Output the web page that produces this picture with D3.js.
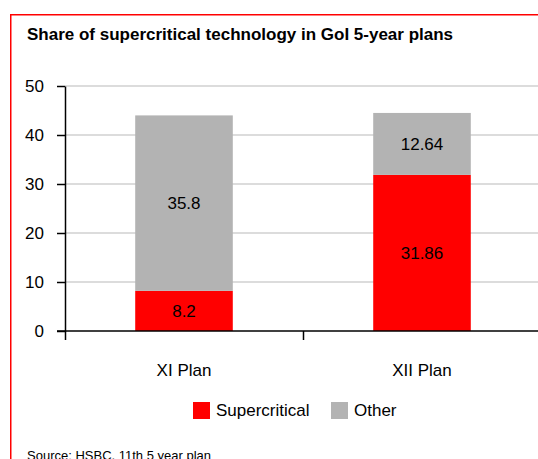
<!DOCTYPE html>
<html lang="en">
<head>
    <meta charset="UTF-8">
    <title>Share of supercritical technology</title>
    <script src="https://d3js.org/d3.v7.min.js"></script>
    <style>
        body { margin: 0; background: white; }
        svg { display: block; font-family: "Liberation Sans", Arial, sans-serif; }
        .tick text { font-size: 17px; fill: #000; }
    </style>
</head>
<body>
    <div id="chart"></div>
    <script>
        // chart data
        var plans = ["XI Plan", "XII Plan"];
        var supercritical = [8.2, 31.86];
        var other = [35.8, 12.64];
        var seriesNames = ["Supercritical", "Other"];
        var seriesColors = ["#ff0000", "#b3b3b3"];
        var yTicks = [0, 10, 20, 30, 40, 50];

        var width = 538, height = 459;
        var plotLeft = 65, plotRight = 541, plotTop = 86, plotBottom = 331;

        var svg = d3.select("#chart").append("svg")
            .attr("width", width)
            .attr("height", height);

        // red frame (right and bottom edges fall outside the picture)
        svg.append("path")
            .attr("d", "M10.75,459 V14.75 H538")
            .attr("fill", "none")
            .attr("stroke", "#ff0000")
            .attr("stroke-width", 1.5);

        svg.append("text")
            .attr("x", 27).attr("y", 40)
            .attr("font-size", 17)
            .attr("font-weight", "bold")
            .text("Share of supercritical technology in GoI 5-year plans");

        var y = d3.scaleLinear().domain([0, 50]).range([plotBottom, plotTop]);
        var x = d3.scaleBand().domain(plans).range([plotLeft, plotRight])
            .paddingInner(0.59).paddingOuter(0.295);
        var xEdge = d3.scaleLinear().domain([0, plans.length]).range([plotLeft, plotRight]);

        // gridlines
        svg.append("g")
            .selectAll("line")
            .data(yTicks.filter(function(d) { return d > 0; }))
            .join("line")
            .attr("x1", plotLeft).attr("x2", width)
            .attr("y1", function(d) { return y(d); })
            .attr("y2", function(d) { return y(d); })
            .attr("stroke", "#d0d0d0")
            .attr("stroke-width", 1.5);

        // stacked bars
        var rows = plans.map(function(p, i) {
            return { plan: p, Supercritical: supercritical[i], Other: other[i] };
        });
        var stacked = d3.stack().keys(seriesNames)(rows);

        var layers = svg.append("g").selectAll("g")
            .data(stacked)
            .join("g")
            .attr("fill", function(d, i) { return seriesColors[i]; });

        layers.selectAll("rect")
            .data(function(d) { return d; })
            .join("rect")
            .attr("x", function(d) { return x(d.data.plan); })
            .attr("width", x.bandwidth())
            .attr("y", function(d) { return y(d[1]); })
            .attr("height", function(d) { return y(d[0]) - y(d[1]); });

        layers.selectAll("text")
            .data(function(d) { return d.map(function(v) { v.key = d.key; return v; }); })
            .join("text")
            .attr("x", function(d) { return x(d.data.plan) + x.bandwidth() / 2; })
            .attr("y", function(d) { return (y(d[0]) + y(d[1])) / 2; })
            .attr("dy", "0.35em")
            .attr("text-anchor", "middle")
            .attr("font-size", 17)
            .attr("fill", "#000")
            .text(function(d) { return d.data[d.key]; });

        // y axis
        var yAxis = svg.append("g")
            .attr("transform", "translate(" + plotLeft + ",0)")
            .call(d3.axisLeft(y).tickValues(yTicks).tickSize(8).tickPadding(13).tickSizeOuter(0));
        yAxis.select(".domain").attr("stroke-width", 1.5);
        yAxis.selectAll(".tick line").attr("stroke-width", 1.5);

        // x axis: ticks on the category edges, labels centred in each band
        var xAxis = svg.append("g")
            .attr("transform", "translate(0," + plotBottom + ")")
            .call(d3.axisBottom(xEdge).ticks(plans.length).tickSize(9).tickFormat("").tickSizeOuter(0));
        xAxis.select(".domain").attr("d", "M" + (plotLeft - 8) + ",0H" + width).attr("stroke-width", 1.5);
        xAxis.selectAll(".tick line").attr("stroke-width", 1.5);

        svg.append("g").selectAll("text")
            .data(plans)
            .join("text")
            .attr("x", function(d) { return x(d) + x.bandwidth() / 2; })
            .attr("y", 376)
            .attr("text-anchor", "middle")
            .attr("font-size", 17)
            .text(function(d) { return d; });

        // legend
        var legendX = [193, 331];
        var legend = svg.append("g").selectAll("g")
            .data(seriesNames)
            .join("g")
            .attr("transform", function(d, i) { return "translate(" + legendX[i] + ",402)"; });
        legend.append("rect")
            .attr("width", 17).attr("height", 17)
            .attr("fill", function(d, i) { return seriesColors[i]; });
        legend.append("text")
            .attr("x", 23).attr("y", 14)
            .attr("font-size", 17)
            .text(function(d) { return d; });

        svg.append("text")
            .attr("x", 27).attr("y", 460)
            .attr("font-size", 13)
            .text("Source: HSBC, 11th 5 year plan");
    </script>
</body>
</html>
